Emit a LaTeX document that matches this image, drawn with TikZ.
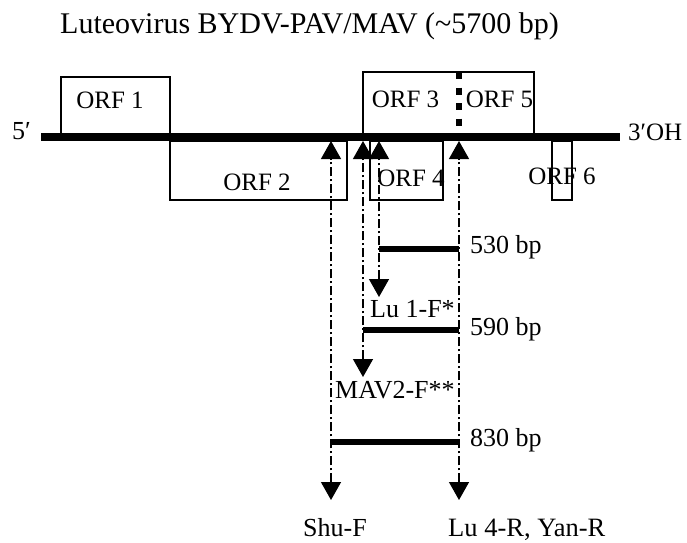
\documentclass[tikz,border=0pt]{standalone}
\usepackage{fontspec}
\setmainfont{Liberation Serif}
\usetikzlibrary{arrows.meta}
\tikzset{
  orfbox/.style={draw=black, line width=1.4pt},
  genome/.style={line width=8pt, line cap=butt},
  sep/.style={line width=6pt, dash pattern=on 7pt off 8.5pt, line cap=butt},
  primer/.style={line width=1.3pt, dash pattern=on 9pt off 3pt on 2pt off 3pt,
    {Triangle[width=20pt,length=18pt]}-{Triangle[width=20pt,length=18pt]}},
  bar/.style={line width=6pt, line cap=butt},
  lab/.style={inner sep=0pt, font=\fontsize{26}{30}\selectfont},
  orflab/.style={inner sep=0pt, anchor=base, font=\fontsize{25}{29}\selectfont},
}
\begin{document}
\begin{tikzpicture}[x=1pt,y=-1pt]
\useasboundingbox (0,0) rectangle (687,542);
% title
\node[inner sep=0pt, anchor=base west, font=\fontsize{30}{34}\selectfont] (title) at (60,33) {Luteovirus BYDV-PAV/MAV (\textasciitilde5700 bp)};
% ORF boxes
\draw[orfbox] (61,137) |- (170,77) -- (170,137);
\draw[orfbox] (170,141) rectangle (347,200);
\draw[orfbox] (363,137) |- (534,72) -- (534,137);
\draw[orfbox] (370,141) rectangle (443,200);
\draw[orfbox] (552,141) rectangle (572,200);
% genome
\coordinate (g5) at (41,137);
\coordinate (g3) at (620,137);
\draw[genome] (g5) -- (g3);
\coordinate (septop) at (459,72);
\coordinate (sepbot) at (459,133);
\draw[sep] (septop) -- (sepbot);
\node[lab, anchor=base west, font=\fontsize{26}{30}\selectfont] (five) at (12,139) {5′};
\node[lab, anchor=base west, font=\fontsize{25}{29}\selectfont] (three) at (628,140) {3′OH};
% ORF labels
\node[orflab] (l1) at (110,108) {ORF 1};
\node[orflab] (l2) at (257,190) {ORF 2};
\node[orflab] (l3) at (405.5,107) {ORF 3};
\node[orflab] (l5) at (499.5,107) {ORF 5};
\node[orflab] (l4) at (411,186) {ORF 4};
\node[orflab] (l6) at (562,184) {ORF 6};
% primers
\coordinate (shuT) at (331,141);  \coordinate (shuB) at (331,500);
\coordinate (mavT) at (363,141);  \coordinate (mavB) at (363,377);
\coordinate (luT) at (379,141);   \coordinate (luB) at (379,297);
\coordinate (lrT) at (459,141);   \coordinate (lrB) at (459,500);
\draw[primer] (shuB) -- (shuT);
\draw[primer] (mavB) -- (mavT);
\draw[primer] (luB) -- (luT);
\draw[primer] (lrB) -- (lrT);
% amplicons
\coordinate (a1) at (379,249); \coordinate (a1e) at (459,249);
\coordinate (a2) at (363,330); \coordinate (a2e) at (459,330);
\coordinate (a3) at (331,442); \coordinate (a3e) at (459,442);
\draw[bar] (a1) -- (a1e);
\draw[bar] (a2) -- (a2e);
\draw[bar] (a3) -- (a3e);
\node[lab, anchor=base west] (s1) at (470,253) {530 bp};
\node[lab, anchor=base west] (s2) at (470,335) {590 bp};
\node[lab, anchor=base west] (s3) at (470,446) {830 bp};
\node[lab, anchor=base west] (p1) at (370,317) {Lu 1-F*};
\node[lab, anchor=base west] (p2) at (335,398) {MAV2-F**};
\node[lab, anchor=base west] (p3) at (303,536) {Shu-F};
\node[lab, anchor=base west, font=\fontsize{26.5}{30}\selectfont] (p4) at (448,536) {Lu 4-R, Yan-R};
\end{tikzpicture}
\end{document}
